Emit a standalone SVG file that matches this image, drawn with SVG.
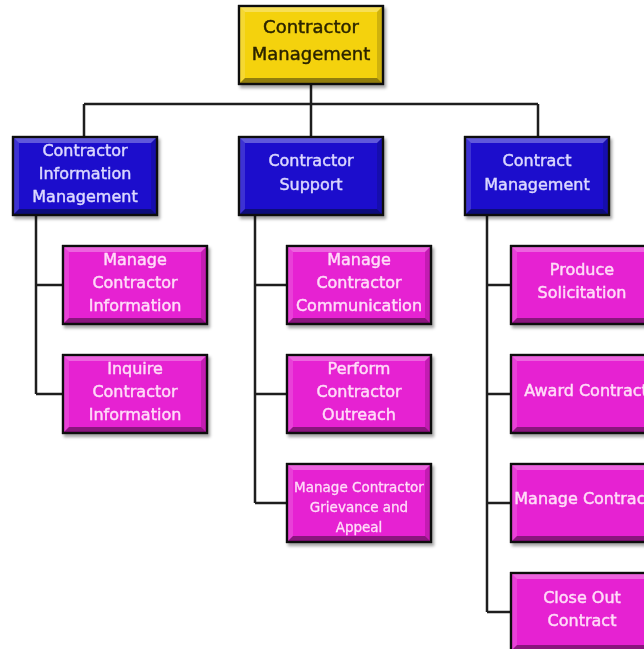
<svg xmlns="http://www.w3.org/2000/svg" xmlns:xlink="http://www.w3.org/1999/xlink" width="644" height="649" viewBox="0 0 644 649">
  <style>
    .box { stroke: #111; stroke-width: 2.2; }
    .yellow { fill: #f4d20e; }
    .blue { fill: #1c10cc; }
    .pink { fill: #e620d2; }
    .lbl { font-family: "DejaVu Sans", "Liberation Sans", sans-serif; font-size: 16px; text-anchor: middle; stroke-width: 0.45; }
    .lbl-top { fill: #2a2400; stroke: #2a2400; font-size: 18px; }
    .lbl-blue { fill: #dcd8ff; stroke: #dcd8ff; }
    .lbl-pink { fill: #ffdcf8; stroke: #ffdcf8; }
    .small { font-size: 13.5px; stroke-width: 0.3; }
    .wire { fill: none; stroke: #1e1e1e; stroke-width: 2.5; }
  </style>
  <defs>
    <filter id="shadow" x="-10%" y="-10%" width="130%" height="130%">
      <feDropShadow dx="2" dy="3" stdDeviation="1.8" flood-color="#000" flood-opacity="0.35"/>
    </filter>
    <!-- bevelled edges shared by every 144x78 box -->
    <g id="bevel">
      <polygon points="0,0 144,0 138,6 6,6" fill="#fff" opacity="0.3"/>
      <polygon points="0,0 6,6 6,72 0,78" fill="#fff" opacity="0.15"/>
      <polygon points="144,0 144,78 138,72 138,6" fill="#000" opacity="0.15"/>
      <polygon points="0,78 144,78 138,72 6,72" fill="#000" opacity="0.4"/>
      <rect x="0" y="0" width="144" height="78" fill="none" stroke="#111" stroke-width="2.2"/>
    </g>
  </defs>

  <!-- connectors -->
  <g id="connectors" class="wire">
    <path d="M311 83 V104 M84 104 H538 M84 104 V137 M311 104 V137 M538 104 V137"/>
    <path d="M36 214 V394 M36 285 H63 M36 394 H63"/>
    <path d="M255 214 V503 M255 285 H287 M255 394 H287 M255 503 H287"/>
    <path d="M487 214 V612 M487 285 H511 M487 394 H511 M487 503 H511 M487 612 H511"/>
  </g>

  <!-- root -->
  <g id="contractor-management" filter="url(#shadow)">
    <rect class="box yellow" x="239" y="6" width="144" height="78"/>
    <use xlink:href="#bevel" x="239" y="6"/>
    <text class="lbl lbl-top" x="311" y="33">Contractor</text>
    <text class="lbl lbl-top" x="311" y="60">Management</text>
  </g>

  <!-- level 1 -->
  <g id="contractor-information-management" filter="url(#shadow)">
    <rect class="box blue" x="13" y="137" width="144" height="78"/>
    <use xlink:href="#bevel" x="13" y="137"/>
    <text class="lbl lbl-blue" x="85" y="156">Contractor</text>
    <text class="lbl lbl-blue" x="85" y="179">Information</text>
    <text class="lbl lbl-blue" x="85" y="202">Management</text>
  </g>
  <g id="contractor-support" filter="url(#shadow)">
    <rect class="box blue" x="239" y="137" width="144" height="78"/>
    <use xlink:href="#bevel" x="239" y="137"/>
    <text class="lbl lbl-blue" x="311" y="166">Contractor</text>
    <text class="lbl lbl-blue" x="311" y="190">Support</text>
  </g>
  <g id="contract-management" filter="url(#shadow)">
    <rect class="box blue" x="465" y="137" width="144" height="78"/>
    <use xlink:href="#bevel" x="465" y="137"/>
    <text class="lbl lbl-blue" x="537" y="166">Contract</text>
    <text class="lbl lbl-blue" x="537" y="190">Management</text>
  </g>

  <!-- level 2: contractor information -->
  <g id="manage-contractor-information" filter="url(#shadow)">
    <rect class="box pink" x="63" y="246" width="144" height="78"/>
    <use xlink:href="#bevel" x="63" y="246"/>
    <text class="lbl lbl-pink" x="135" y="265">Manage</text>
    <text class="lbl lbl-pink" x="135" y="288">Contractor</text>
    <text class="lbl lbl-pink" x="135" y="311">Information</text>
  </g>
  <g id="inquire-contractor-information" filter="url(#shadow)">
    <rect class="box pink" x="63" y="355" width="144" height="78"/>
    <use xlink:href="#bevel" x="63" y="355"/>
    <text class="lbl lbl-pink" x="135" y="374">Inquire</text>
    <text class="lbl lbl-pink" x="135" y="397">Contractor</text>
    <text class="lbl lbl-pink" x="135" y="420">Information</text>
  </g>

  <!-- level 2: contractor support -->
  <g id="manage-contractor-communication" filter="url(#shadow)">
    <rect class="box pink" x="287" y="246" width="144" height="78"/>
    <use xlink:href="#bevel" x="287" y="246"/>
    <text class="lbl lbl-pink" x="359" y="265">Manage</text>
    <text class="lbl lbl-pink" x="359" y="288">Contractor</text>
    <text class="lbl lbl-pink" x="359" y="311">Communication</text>
  </g>
  <g id="perform-contractor-outreach" filter="url(#shadow)">
    <rect class="box pink" x="287" y="355" width="144" height="78"/>
    <use xlink:href="#bevel" x="287" y="355"/>
    <text class="lbl lbl-pink" x="359" y="374">Perform</text>
    <text class="lbl lbl-pink" x="359" y="397">Contractor</text>
    <text class="lbl lbl-pink" x="359" y="420">Outreach</text>
  </g>
  <g id="manage-contractor-grievance" filter="url(#shadow)">
    <rect class="box pink" x="287" y="464" width="144" height="78"/>
    <use xlink:href="#bevel" x="287" y="464"/>
    <text class="lbl lbl-pink small" x="359" y="492">Manage Contractor</text>
    <text class="lbl lbl-pink small" x="359" y="512">Grievance and</text>
    <text class="lbl lbl-pink small" x="359" y="532">Appeal</text>
  </g>

  <!-- level 2: contract management -->
  <g id="produce-solicitation" filter="url(#shadow)">
    <rect class="box pink" x="511" y="246" width="144" height="78"/>
    <use xlink:href="#bevel" x="511" y="246"/>
    <text class="lbl lbl-pink" x="582" y="275">Produce</text>
    <text class="lbl lbl-pink" x="582" y="298">Solicitation</text>
  </g>
  <g id="award-contract" filter="url(#shadow)">
    <rect class="box pink" x="511" y="355" width="144" height="78"/>
    <use xlink:href="#bevel" x="511" y="355"/>
    <text class="lbl lbl-pink" x="586" y="396">Award Contract</text>
  </g>
  <g id="manage-contract" filter="url(#shadow)">
    <rect class="box pink" x="511" y="464" width="144" height="78"/>
    <use xlink:href="#bevel" x="511" y="464"/>
    <text class="lbl lbl-pink" x="583" y="504">Manage Contract</text>
  </g>
  <g id="close-out-contract" filter="url(#shadow)">
    <rect class="box pink" x="511" y="573" width="144" height="78"/>
    <use xlink:href="#bevel" x="511" y="573"/>
    <text class="lbl lbl-pink" x="582" y="603">Close Out</text>
    <text class="lbl lbl-pink" x="582" y="626">Contract</text>
  </g>
</svg>
